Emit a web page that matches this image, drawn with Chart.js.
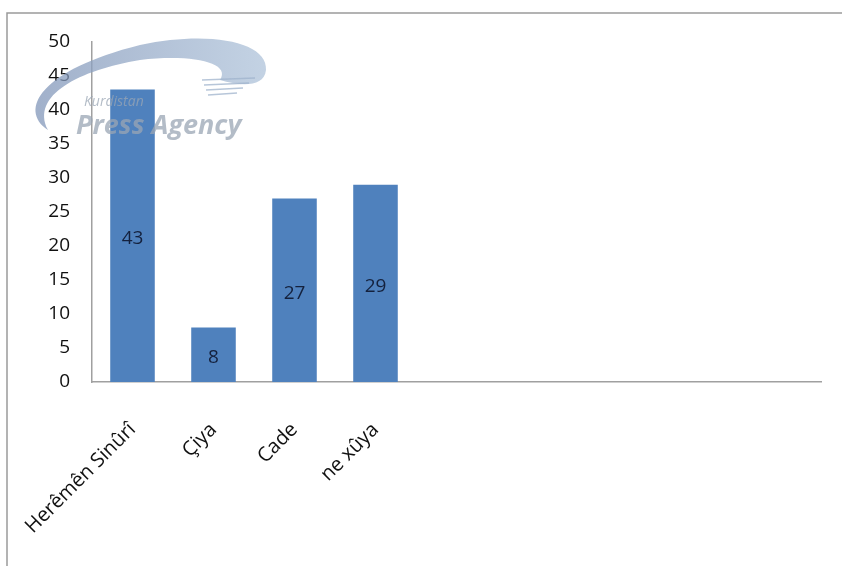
<!DOCTYPE html>
<html>
<head>
<meta charset="utf-8">
<script src="https://cdn.jsdelivr.net/npm/chart.js@4/dist/chart.umd.min.js"></script>
<style>
    html, body { margin: 0; padding: 0; background: #fff; }
    #wrap { width: 842px; height: 566px; position: relative; }
</style>
</head>
<body>
<div id="wrap"><canvas id="grafico"></canvas></div>
<script>
// ---------------------------------------------- DATOS -------------------------------------
const categorias = ['Herêmên Sinûrî', 'Çiya', 'Cade', 'ne xûya', '', '', '', '', ''];
const valores = [43, 8, 27, 29, null, null, null, null, null];
const ticksY = [0, 5, 10, 15, 20, 25, 30, 35, 40, 45, 50];

const fuente = "'Open Sans', 'Noto Sans', sans-serif";

// marco gris arriba y a la izquierda
const marco = {
    id: 'marco',
    beforeDraw(chart) {
        const ctx = chart.ctx;
        ctx.save();
        ctx.strokeStyle = '#9a9a9a';
        ctx.lineWidth = 1.5;
        ctx.beginPath();
        ctx.moveTo(7, 566);
        ctx.lineTo(7, 13);
        ctx.lineTo(842, 13);
        ctx.stroke();
        ctx.restore();
    }
};

// numeros dentro de las barras
const etiquetas = {
    id: 'etiquetas',
    afterDatasetsDraw(chart) {
        const ctx = chart.ctx;
        const meta = chart.getDatasetMeta(0);
        ctx.save();
        ctx.font = '19px ' + fuente;
        ctx.fillStyle = '#14213d';
        ctx.textAlign = 'center';
        ctx.textBaseline = 'middle';
        meta.data.forEach((bar, i) => {
            if (valores[i] == null) return;
            const y = (bar.y + bar.base) / 2;
            ctx.fillText(valores[i], bar.x, y + 3);
        });
        ctx.restore();
    }
};

// marca de agua "Kurdistan Press Agency"
const marcaAgua = {
    id: 'marcaAgua',
    afterDraw(chart) {
        const ctx = chart.ctx;
        ctx.save();
        ctx.globalAlpha = 0.75;
        // curva
        const grad = ctx.createLinearGradient(30, 0, 265, 0);
        grad.addColorStop(0, '#8095b8');
        grad.addColorStop(1, '#afc3da');
        ctx.fillStyle = grad;
        ctx.beginPath();
        ctx.moveTo(48, 130);
        ctx.bezierCurveTo(18, 110, 40, 70, 140, 45);
        ctx.bezierCurveTo(210, 30, 268, 42, 266, 70);
        ctx.bezierCurveTo(264, 88, 240, 86, 220, 80);
        ctx.bezierCurveTo(232, 62, 190, 54, 140, 60);
        ctx.bezierCurveTo(80, 70, 30, 95, 48, 130);
        ctx.closePath();
        ctx.fill();
        // rayas
        ctx.strokeStyle = '#9fb3cc';
        ctx.lineWidth = 1.5;
        for (let k = 0; k < 4; k++) {
            ctx.beginPath();
            ctx.moveTo(202 + k * 2, 80 + k * 5);
            ctx.lineTo(255 - k * 6, 78 + k * 5);
            ctx.stroke();
        }
        // texto
        ctx.fillStyle = '#9aa5b4';
        ctx.font = 'italic 14px ' + fuente;
        ctx.fillText('Kurdistan', 84, 106);
        ctx.font = 'italic bold 27px ' + fuente;
        ctx.fillText('Press Agency', 76, 134);
        ctx.restore();
    }
};

const config = {
    type: 'bar',
    data: {
        labels: categorias,
        datasets: [{
            data: valores,
            backgroundColor: '#4f81bd',
            borderWidth: 0,
            categoryPercentage: 1,
            barPercentage: 0.55
        }]
    },
    options: {
        responsive: false,
        animation: false,
        layout: { padding: { left: 0, right: 21, top: 42, bottom: 0 } },
        plugins: { legend: { display: false }, tooltip: { enabled: false } },
        scales: {
            x: {
                grid: { display: false, drawTicks: false },
                border: { color: '#a0a0a0', width: 1.5 },
                ticks: {
                    color: '#111',
                    font: { family: fuente, size: 20 },
                    minRotation: 45,
                    maxRotation: 45,
                    autoSkip: false,
                    padding: 36
                },
                afterFit: s => {
                    s.height = 184;
                    s.paddingLeft = 0;
                    s.paddingRight = 0;
                }
            },
            y: {
                min: 0,
                max: 50,
                afterBuildTicks: s => { s.ticks = ticksY.map(v => ({ value: v })); },
                grid: { display: false, drawTicks: false },
                border: { color: '#a0a0a0', width: 1.5 },
                ticks: {
                    color: '#111',
                    font: { family: fuente, size: 19 },
                    padding: 22
                },
                afterFit: s => { s.width = 92; }
            }
        }
    },
    plugins: [marco, etiquetas, marcaAgua]
};

const canvas = document.getElementById('grafico');
canvas.width = 842;
canvas.height = 566;
const miGrafico = new Chart(canvas, config);
</script>
</body>
</html>
